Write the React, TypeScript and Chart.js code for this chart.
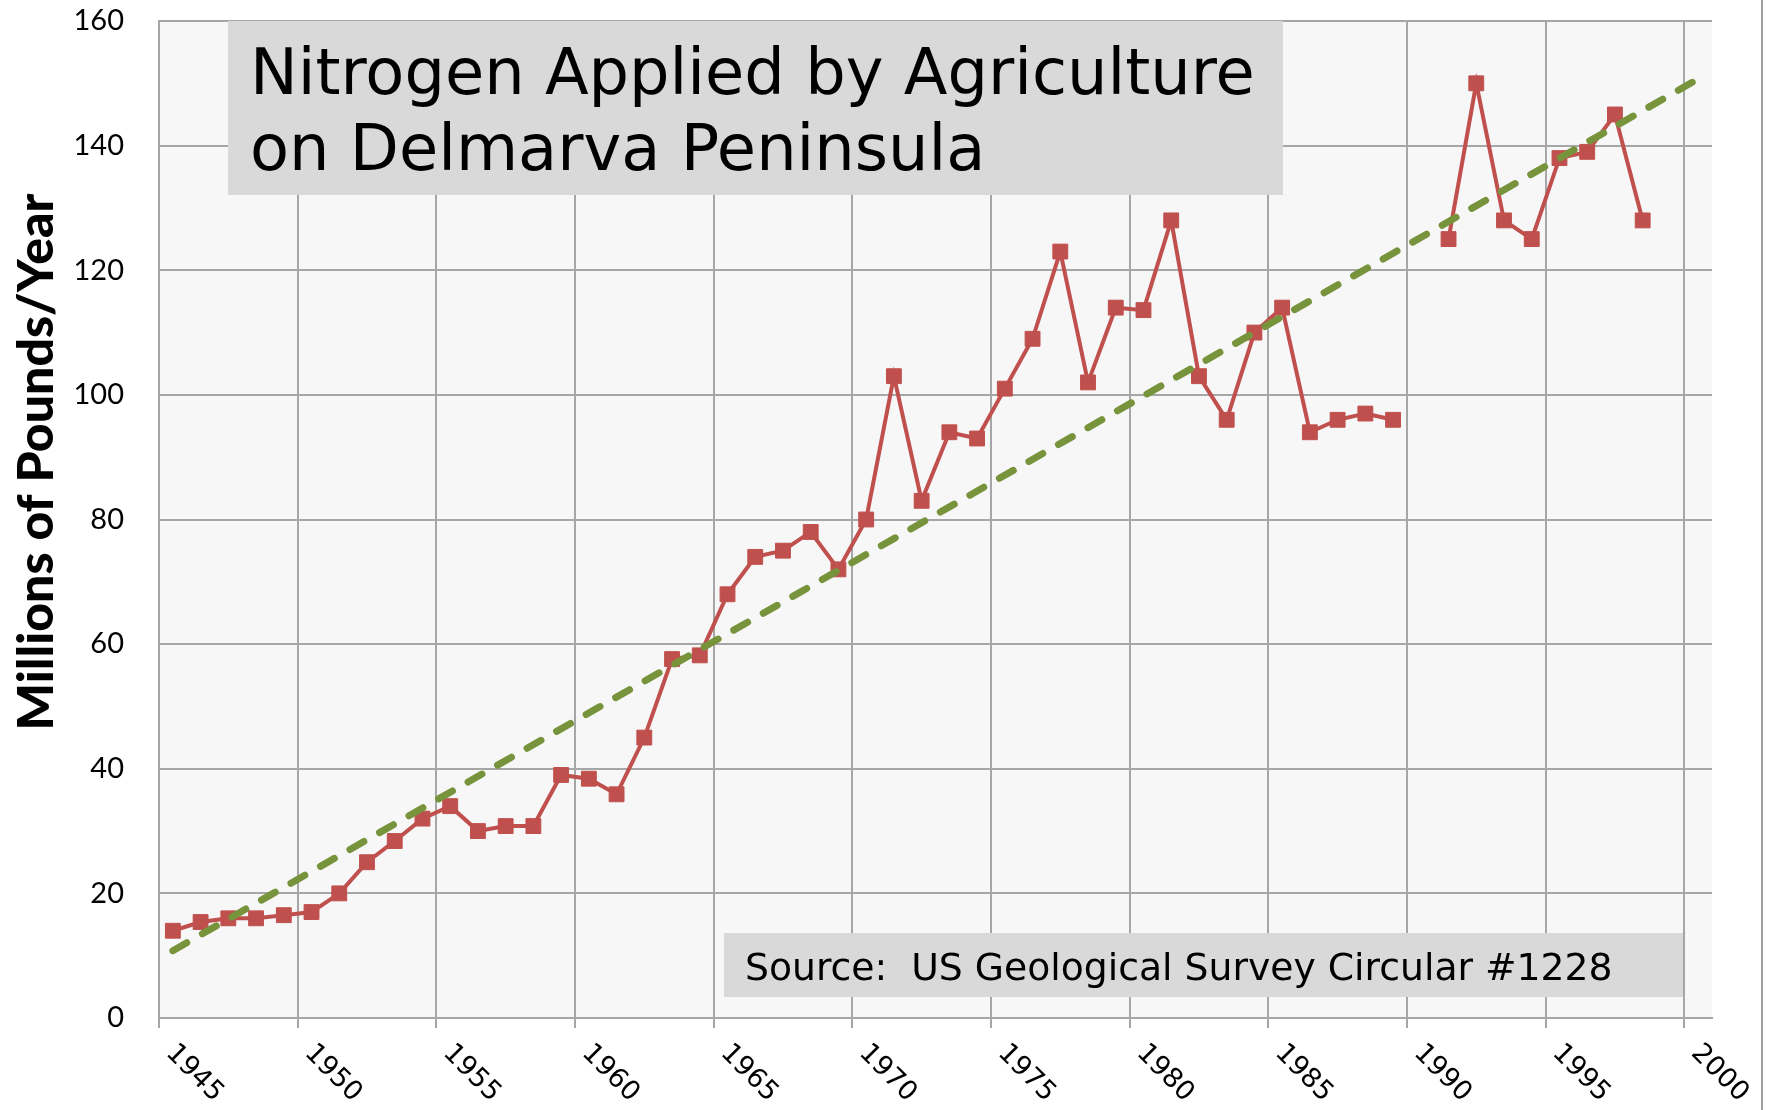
import React, { useEffect, useRef } from 'react';
import { Chart, registerables } from 'chart.js';

Chart.register(...registerables);

// ---- data ----
const years = [
  1945, 1946, 1947, 1948, 1949, 1950, 1951, 1952, 1953, 1954,
  1955, 1956, 1957, 1958, 1959, 1960, 1961, 1962, 1963, 1964,
  1965, 1966, 1967, 1968, 1969, 1970, 1971, 1972, 1973, 1974,
  1975, 1976, 1977, 1978, 1979, 1980, 1981, 1982, 1983, 1984,
  1985, 1986, 1987, 1988, 1989, 1990, 1991, 1992, 1993, 1994,
  1995, 1996, 1997, 1998,
];
const nitrogen: (number | null)[] = [
  14, 15.4, 16, 16, 16.5, 17, 20, 25, 28.4, 32,
  34, 30, 30.8, 30.8, 39, 38.4, 35.9, 45, 57.6, 58.2,
  68, 74, 75, 78, 72, 80, 103, 83, 94, 93,
  101, 109, 123, 102, 114, 113.6, 128, 103, 96, 110,
  114, 94, 96, 97, 96, null, 125, 150, 128, 125,
  138, 139, 145, 128,
];
const trendYears = [1945, 2000];
const trendValues = [10.8, 150.7];

const xMin = 1945;
const xMax = 2001;
const xStep = 5;
const yMin = 0;
const yMax = 160;
const yStep = 20;

const titleLines = ['Nitrogen Applied by Agriculture', 'on Delmarva Peninsula'];
const sourceText = 'Source:  US Geological Survey Circular #1228';
const yAxisTitle = 'Millions of Pounds/Year';

function fitSize(ctx: CanvasRenderingContext2D, text: string, family: string, weight: string, target: number) {
  const base = 50;
  ctx.font = `${weight} ${base}px ${family}`;
  const w = ctx.measureText(text).width;
  return (base * target) / w;
}

const decorPlugin = {
  id: 'decor',
  beforeDraw(chart: any) {
    const { ctx, chartArea } = chart;
    ctx.save();
    ctx.fillStyle = '#ffffff';
    ctx.fillRect(0, 0, chart.width, chart.height);
    ctx.fillStyle = '#f7f7f7';
    ctx.fillRect(chartArea.left, chartArea.top, chartArea.right - chartArea.left, chartArea.bottom - chartArea.top);
    ctx.restore();
  },
  afterDraw(chart: any) {
    const { ctx, chartArea } = chart;
    const xs = chart.scales.x;
    const ys = chart.scales.y;
    ctx.save();

    // y tick labels
    ctx.fillStyle = '#000';
    ctx.font = '29px Lato';
    ctx.textAlign = 'right';
    ctx.textBaseline = 'middle';
    ys.ticks.forEach((t: any) => {
      const py = ys.getPixelForValue(t.value);
      ctx.fillText(String(t.value), chartArea.left - 35, py);
    });

    // rotated x tick labels (clockwise)
    ctx.font = '27px "DejaVu Sans"';
    ctx.textAlign = 'left';
    ctx.textBaseline = 'alphabetic';
    xs.ticks.forEach((t: any) => {
      const px = xs.getPixelForValue(t.value);
      ctx.save();
      ctx.translate(px + 6, chartArea.bottom + 36);
      ctx.rotate(Math.PI / 4);
      ctx.fillText(String(t.value), 0, 0);
      ctx.restore();
    });

    // y axis title
    const ySize = fitSize(ctx, yAxisTitle, 'Lato', '900', 537);
    ctx.font = `900 ${ySize}px Lato`;
    ctx.textAlign = 'center';
    ctx.save();
    ctx.translate(53, 462);
    ctx.rotate(-Math.PI / 2);
    ctx.fillText(yAxisTitle, 0, 0);
    ctx.restore();

    // title box
    ctx.fillStyle = '#d9d9d9';
    ctx.fillRect(228, 21, 1283 - 228, 195 - 21);
    ctx.fillStyle = '#000';
    const tSize = fitSize(ctx, titleLines[0], '"DejaVu Sans"', 'normal', 1005);
    ctx.font = `${tSize}px "DejaVu Sans"`;
    ctx.textAlign = 'left';
    ctx.fillText(titleLines[0], 250, 94);
    ctx.fillText(titleLines[1], 250, 170);

    // source box
    ctx.fillStyle = '#d9d9d9';
    ctx.fillRect(724, 933, 1683 - 724, 997 - 933);
    ctx.fillStyle = '#000';
    const sSize = fitSize(ctx, sourceText, '"DejaVu Sans"', 'normal', 868);
    ctx.font = `${sSize}px "DejaVu Sans"`;
    ctx.fillText(sourceText, 745, 980);

    // right frame line
    ctx.fillStyle = '#a0a0a0';
    ctx.fillRect(1761, 0, 2, chart.height);

    ctx.restore();
  },
};

export default function App() {
  const canvasRef = useRef<HTMLCanvasElement | null>(null);

  useEffect(() => {
    document.body.style.margin = '0';
    document.body.style.overflow = 'hidden';
    const canvas = canvasRef.current;
    if (!canvas) return;

    const mainData = years.map((yr, i) => ({ x: yr + 0.5, y: nitrogen[i] }));
    const trendData = trendYears.map((yr, i) => ({ x: yr + 0.5, y: trendValues[i] }));

    const chart = new Chart(canvas, {
      type: 'line',
      data: {
        datasets: [
          {
            label: 'Nitrogen',
            data: mainData as any,
            borderColor: '#c0504d',
            backgroundColor: '#c0504d',
            borderWidth: 4,
            pointStyle: 'rect',
            pointRadius: 10.5,
            pointBorderWidth: 1,
            pointBorderColor: '#c0504d',
            pointBackgroundColor: '#c0504d',
            spanGaps: false,
            tension: 0,
            order: 2,
          },
          {
            label: 'Trend',
            data: trendData as any,
            borderColor: '#77933c',
            borderWidth: 7,
            borderDash: [16, 18],
            borderCapStyle: 'round',
            pointRadius: 0,
            tension: 0,
            order: 1,
          },
        ],
      },
      options: {
        animation: false,
        responsive: false,
        devicePixelRatio: 1,
        layout: { padding: { top: 21, right: 56, left: 0, bottom: 0 } },
        plugins: {
          legend: { display: false },
          tooltip: { enabled: false },
          title: { display: false },
        },
        scales: {
          x: {
            type: 'linear',
            min: xMin,
            max: xMax,
            ticks: { stepSize: xStep, display: false, includeBounds: false },
            afterBuildTicks: (scale: any) => {
              scale.ticks = scale.ticks.filter((t: any) => t.value % xStep === 0);
            },
            afterFit: (scale: any) => {
              scale.height = 92;
            },
            grid: {
              color: '#a6a6a6',
              lineWidth: 2,
              drawTicks: true,
              tickLength: 10,
            },
            border: { color: '#a6a6a6', width: 2 },
          },
          y: {
            type: 'linear',
            min: yMin,
            max: yMax,
            ticks: { stepSize: yStep, display: false },
            afterFit: (scale: any) => {
              scale.width = 159;
            },
            grid: {
              color: '#a6a6a6',
              lineWidth: 2,
              drawTicks: false,
            },
            border: { color: '#a6a6a6', width: 2 },
          },
        },
      },
      plugins: [decorPlugin],
    });

    return () => chart.destroy();
  }, []);

  return (
    <div style={{ position: 'absolute', left: 0, top: 0, width: 1768, height: 1110 }}>
      <canvas ref={canvasRef} width={1768} height={1110} />
    </div>
  );
}
